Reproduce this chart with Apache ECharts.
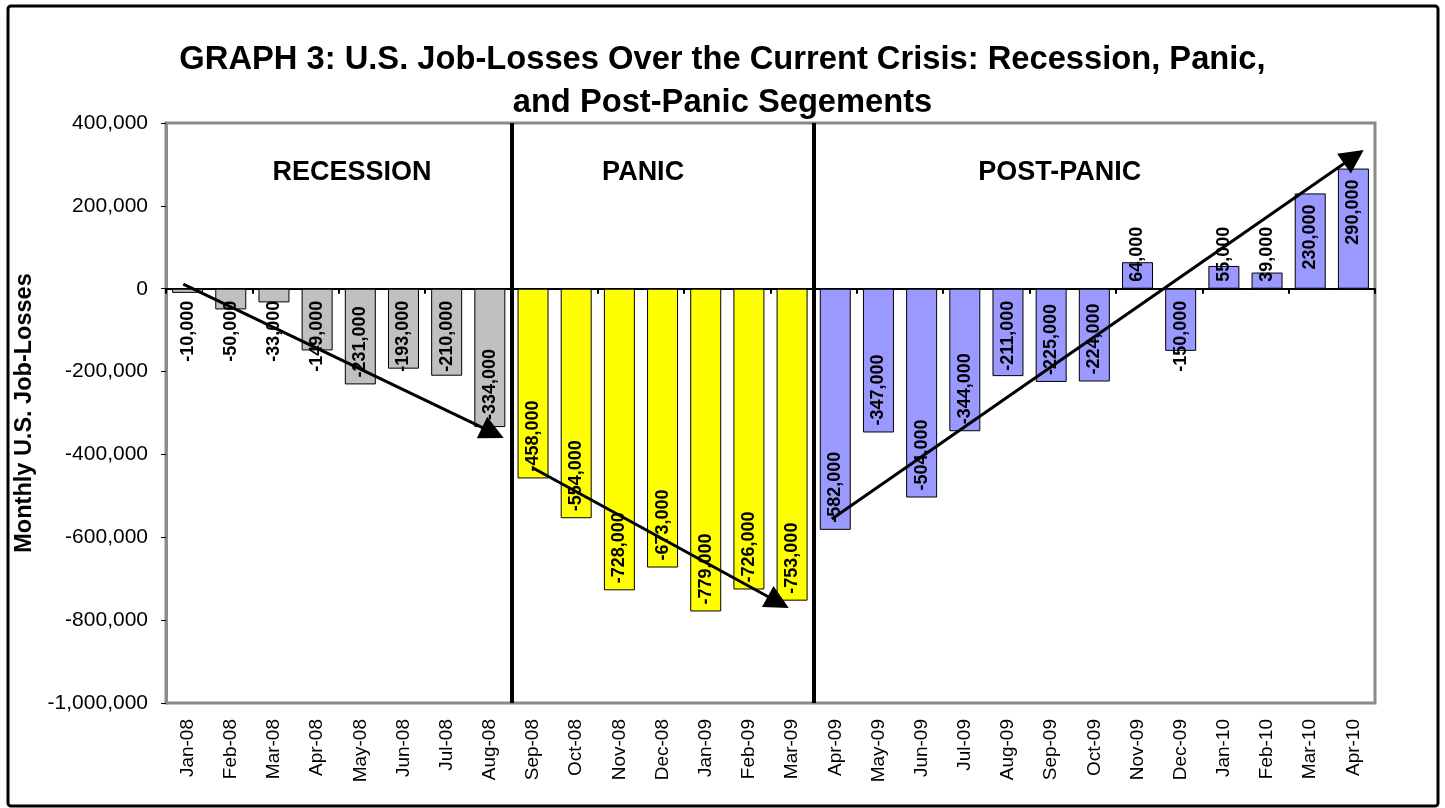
<!DOCTYPE html>
<html>
<head>
<meta charset="utf-8">
<title>U.S. Job-Losses Over the Current Crisis</title>
<script src="https://cdn.jsdelivr.net/npm/echarts@6/dist/echarts.min.js"></script>
<style>
  html, body { margin: 0; padding: 0; background: #ffffff; }
  #chart { width: 1445px; height: 808px; }
</style>
</head>
<body>
<div id="chart"></div>
<script>
// ---- data ----
const months = [
  'Jan-08', 'Feb-08', 'Mar-08', 'Apr-08', 'May-08', 'Jun-08', 'Jul-08', 'Aug-08',
  'Sep-08', 'Oct-08', 'Nov-08', 'Dec-08', 'Jan-09', 'Feb-09', 'Mar-09',
  'Apr-09', 'May-09', 'Jun-09', 'Jul-09', 'Aug-09', 'Sep-09', 'Oct-09', 'Nov-09',
  'Dec-09', 'Jan-10', 'Feb-10', 'Mar-10', 'Apr-10'
];
const jobChanges = [
  -10000, -50000, -33000, -149000, -231000, -193000, -210000, -334000,
  -458000, -554000, -728000, -673000, -779000, -726000, -753000,
  -582000, -347000, -504000, -344000, -211000, -225000, -224000, 64000,
  -150000, 55000, 39000, 230000, 290000
];
const phaseNames = ['RECESSION', 'PANIC', 'POST-PANIC'];
const phaseFirstMonth = [0, 8, 15];
// caption anchor of each phase, in (month index, jobs) units
const phaseCaptionAt = [[3.81, 280000], [10.55, 280000], [20.2, 280000]];
// trend arrows, [start, head] in (month index, jobs) units
const trendArrows = [
  [[-0.1, 11000], [7.07, -347600]],
  [[8.0, -432800], [13.68, -756700]],
  [[14.92, -555900], [27.01, 318600]]
];
const yMin = -1000000;
const yMax = 400000;
const yStep = 200000;

// ---- styling ----
const FONT = '"Liberation Sans", Arial, Helvetica, sans-serif';
const phaseColors = ['#C0C0C0', '#FFFF00', '#9999FF'];
const LABEL_SIZE = 18;

const fmt = v => Number(v).toLocaleString('en-US');
const phaseOf = i => {
  let p = 0;
  phaseFirstMonth.forEach((s, k) => { if (i >= s) p = k; });
  return p;
};

const chart = echarts.init(document.getElementById('chart'), null, { renderer: 'canvas' });

function barItems(labelFor) {
  return jobChanges.map((v, i) => ({
    value: v,
    itemStyle: { color: phaseColors[phaseOf(i)] },
    label: labelFor ? labelFor(v, i) : undefined
  }));
}

const dividers = phaseFirstMonth.slice(1).map(s => ({
  coords: [[s - 0.5, yMax], [s - 0.5, yMin]]
}));

const option = {
  animation: false,
  backgroundColor: '#ffffff',
  textStyle: { fontFamily: FONT },
  title: {
    text: 'GRAPH 3: U.S. Job-Losses Over the Current Crisis: Recession, Panic,\nand Post-Panic Segements',
    left: 'center',
    top: 33,
    textStyle: {
      fontFamily: FONT, fontSize: 32.7, fontWeight: 'bold', color: '#000', lineHeight: 43
    }
  },
  graphic: [{
    type: 'rect',
    shape: { x: 8, y: 6, width: 1430, height: 800, r: 3 },
    style: { fill: 'none', stroke: '#000', lineWidth: 3 },
    silent: true,
    z: 100
  }],
  grid: {
    left: 166, right: 70, top: 123, bottom: 105,
    show: true, borderColor: '#8a8a8a', borderWidth: 3, backgroundColor: 'transparent'
  },
  xAxis: [
    {
      type: 'category', data: months, position: 'bottom',
      axisLine: { show: false, onZero: false },
      axisTick: { show: false },
      axisLabel: {
        rotate: 90, fontSize: 19, color: '#000', fontFamily: FONT, margin: 16, interval: 0
      }
    },
    {
      type: 'category', data: months, position: 'bottom',
      axisLine: { show: true, onZero: true, lineStyle: { color: '#000', width: 2 } },
      axisTick: { show: true, length: 5, lineStyle: { color: '#000', width: 2 } },
      axisLabel: { show: false }
    },
    {
      type: 'value', min: -0.5, max: months.length - 0.5, show: false, position: 'bottom'
    }
  ],
  yAxis: {
    type: 'value', min: yMin, max: yMax, interval: yStep,
    name: 'Monthly U.S. Job-Losses',
    nameLocation: 'middle', nameRotate: 90, nameGap: 117,
    nameTextStyle: { fontFamily: FONT, fontSize: 23.5, fontWeight: 'bold', color: '#000' },
    axisLine: { show: true, onZero: false, lineStyle: { color: '#8a8a8a', width: 3 } },
    axisTick: { show: true, length: 5, lineStyle: { color: '#000', width: 1 } },
    axisLabel: { fontSize: 21, color: '#000', fontFamily: FONT, margin: 18, formatter: fmt },
    splitLine: { show: false }
  },
  series: [
    {
      type: 'bar', xAxisIndex: 0, yAxisIndex: 0,
      barWidth: 31,
      data: barItems(),
      itemStyle: { borderColor: '#000', borderWidth: 1 },
      label: {
        show: true, rotate: 90, fontFamily: FONT, fontSize: LABEL_SIZE, fontWeight: 'bold',
        color: '#000', formatter: p => fmt(p.value)
      },
      z: 2
    },
    {
      type: 'lines', coordinateSystem: 'cartesian2d', xAxisIndex: 2, yAxisIndex: 0,
      data: dividers, symbol: 'none', silent: true,
      lineStyle: { color: '#000', width: 4, opacity: 1 },
      z: 5
    },
    {
      type: 'lines', coordinateSystem: 'cartesian2d', xAxisIndex: 2, yAxisIndex: 0,
      data: trendArrows.map(a => ({ coords: a })),
      symbol: ['none', 'triangle'], symbolSize: [20, 24], silent: true,
      lineStyle: { color: '#000', width: 3, opacity: 1 },
      z: 10
    },
    {
      type: 'scatter', xAxisIndex: 2, yAxisIndex: 0,
      data: phaseCaptionAt.map((c, k) => ({ value: c, name: phaseNames[k] })),
      symbolSize: 0, silent: true,
      itemStyle: { opacity: 1 },
      label: {
        show: true, position: 'inside', formatter: p => p.name, opacity: 1,
        fontFamily: FONT, fontSize: 27, fontWeight: 'bold', color: '#000'
      },
      z: 6
    }
  ]
};

chart.setOption(option);

// Place each value label at the bar's end; when it does not fit, anchor it at the base.
const ctx = document.createElement('canvas').getContext('2d');
ctx.font = 'bold ' + LABEL_SIZE + 'px "Liberation Sans", Arial, sans-serif';
const zeroPx = chart.convertToPixel({ yAxisIndex: 0 }, 0);

chart.setOption({
  series: [{
    data: barItems((v, i) => {
      const barLen = Math.abs(chart.convertToPixel({ yAxisIndex: 0 }, v) - zeroPx);
      const textW = ctx.measureText(fmt(v)).width;
      const neg = v < 0;
      const endInset = neg ? 7 : 11;
      const baseInset = neg ? 12 : 7;
      const fits = barLen - endInset >= textW + baseInset;
      if (neg) {
        return fits
          ? { position: 'insideBottom', distance: endInset, align: 'left', verticalAlign: 'middle' }
          : { position: 'insideTop', distance: baseInset, align: 'right', verticalAlign: 'middle' };
      }
      return fits
        ? { position: 'insideTop', distance: endInset, align: 'right', verticalAlign: 'middle' }
        : { position: 'insideBottom', distance: baseInset, align: 'left', verticalAlign: 'middle' };
    })
  }]
});
</script>
</body>
</html>
